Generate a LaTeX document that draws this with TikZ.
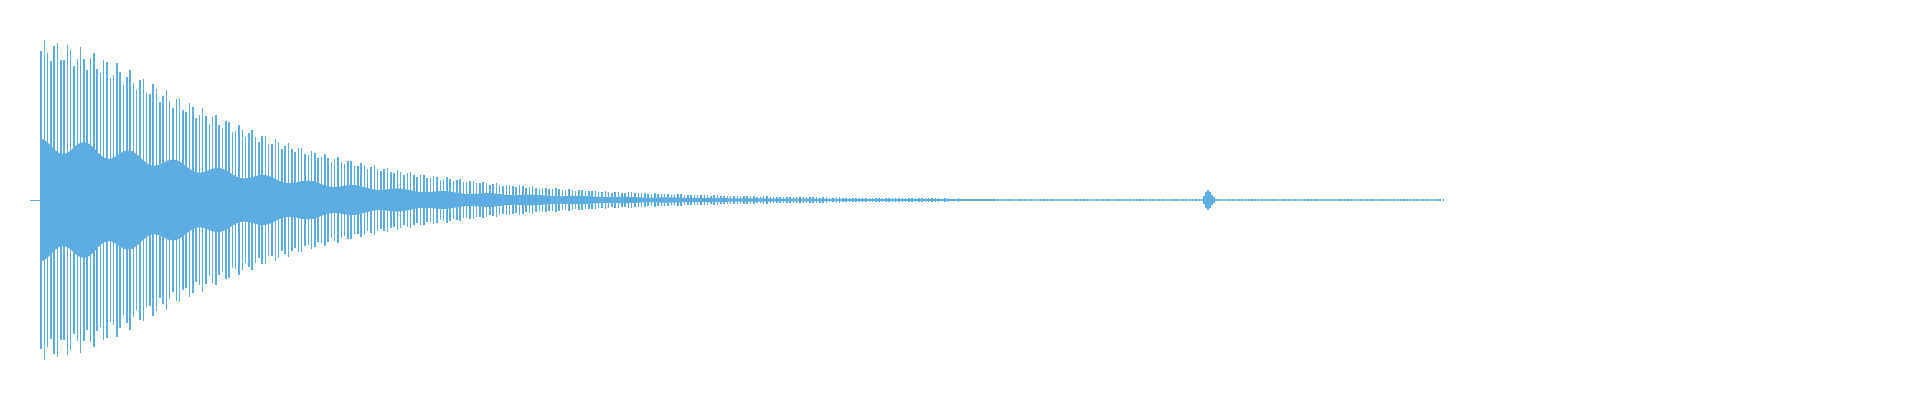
\documentclass[tikz,border=0pt]{standalone}
\usepackage{tikz}
\definecolor{wave}{RGB}{93,173,226}
\tikzset{declare function={envl(\t)=160*exp(-(veclen(\t,100)-100)/160);}}
\begin{document}
\begin{tikzpicture}[x=1pt,y=1pt,
    spike/.style={draw=wave, line width=1.5pt},
    core/.style={fill=wave, draw=none}
]
\useasboundingbox (0,0) rectangle (1920,400);
% filled core of the waveform
\fill[core] plot[domain=40:1440, samples=350, smooth]
    (\x, {200+0.5+0.38*envl(\x-40)*(0.88+0.12*cos(8*(\x-40)))})
  -- plot[domain=1440:40, samples=350, smooth]
    (\x, {200-0.5-0.38*envl(\x-40)*(0.88+0.12*cos(8*(\x-40)))}) -- cycle;
% spikes
\foreach \i in {0,...,425} {
  \pgfmathsetmacro{\px}{41+3.3*\i}
  \pgfmathsetmacro{\amp}{0.6+envl(\px-41)*(0.93+0.07*sin(97*mod(\i,37)))}
  \draw[spike] (\px, {200-\amp}) -- (\px, {200+\amp});
}
% small blip
\foreach \px/\amp in {1204/4,1206/8,1208/10,1210/8,1212/5,1214/3} {
  \draw[spike] (\px, {200-\amp}) -- (\px, {200+\amp});
}
% lead-in
\draw[spike, line width=0.8pt] (30,200) -- (40,200);
\end{tikzpicture}
\end{document}
